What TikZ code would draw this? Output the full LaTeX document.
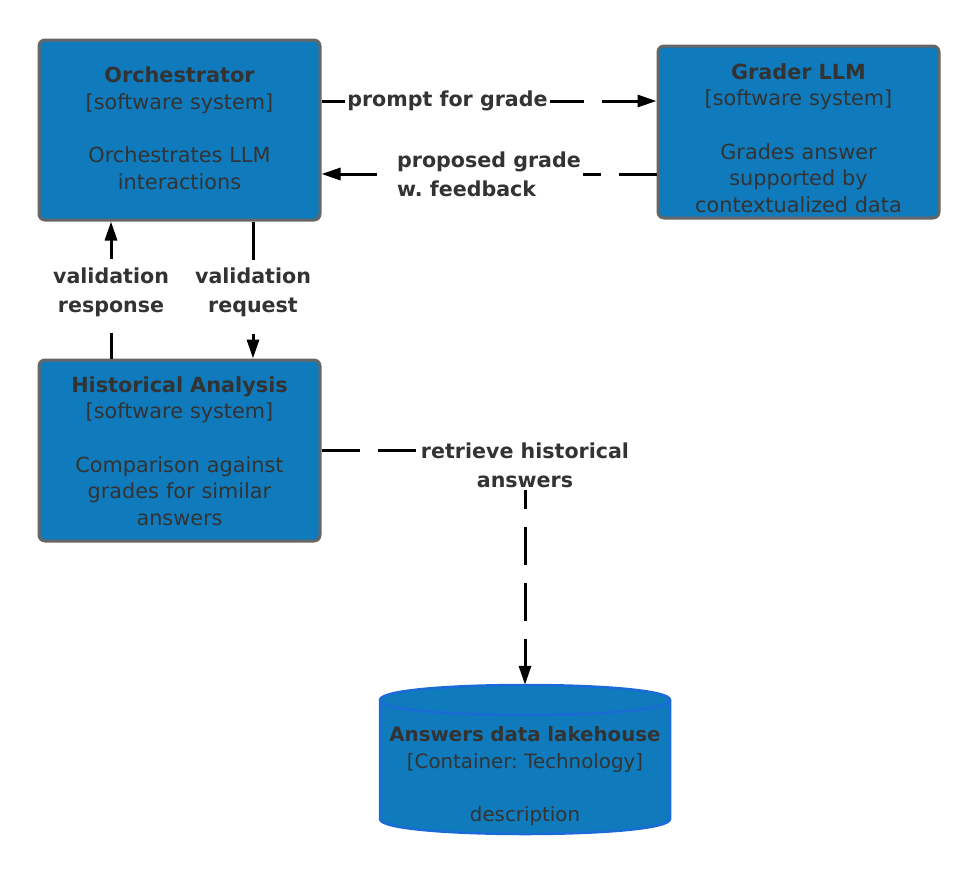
\documentclass[tikz,border=0pt]{standalone}
\usepackage{fontspec}
\setmainfont{DejaVu Sans}
\usetikzlibrary{arrows.meta}
\definecolor{boxfill}{HTML}{0F7BBD}
\definecolor{boxline}{HTML}{666666}
\definecolor{txt}{HTML}{333333}
\definecolor{cylline}{HTML}{1A6BD6}
\frenchspacing
\begin{document}
\begin{tikzpicture}[x=1pt,y=-1pt,
  sys/.style={draw=boxline, line width=3pt, fill=boxfill, rounded corners=6pt,
    minimum width=281pt, inner sep=0pt},
  systxt/.style={text width=278pt, align=center, text=txt,
    font=\fontsize{20.8}{26.7}\selectfont, inner sep=0pt},
  rel/.style={line width=3pt, dash pattern=on 38pt off 18pt,
    -{Triangle[length=19pt,width=12pt]}},
  lbl/.style={fill=white, text=txt, font=\bfseries\fontsize{20.6}{29}\selectfont,
    inner sep=2pt, align=center}
]
\useasboundingbox (0,0) rectangle (980,873);

\node[sys, minimum height=180pt] (orch) at (179.5,130) {};
\node[systxt] (orchtxt) at (179.5,128.5)
  {\textbf{Orchestrator}\\{}[software system]\\\mbox{}\\Orchestrates LLM\\interactions};
\node[sys, minimum height=172pt] (grader) at (798.5,132) {};
\node[systxt] (gradertxt) at (798.5,138)
  {\textbf{Grader LLM}\\{}[software system]\\\mbox{}\\Grades answer\\supported by\\contextualized data};
\node[sys, minimum height=181pt] (hist) at (179.5,450.5) {};
\node[systxt] (histtxt) at (179.5,451)
  {\textbf{Historical Analysis}\\{}[software system]\\\mbox{}\\Comparison against\\grades for similar\\answers};

% cylinder
\node[minimum width=290pt, minimum height=149pt, inner sep=0pt] (lake) at (525,759.5) {};
\path[fill=boxfill, draw=cylline, line width=2.5pt]
  (380,700) -- (380,819) .. controls (380,839) and (670,839) .. (670,819)
  -- (670,700) .. controls (670,680) and (380,680) .. (380,700) -- cycle;
\draw[cylline, line width=2.5pt] (380,700) .. controls (380,720) and (670,720) .. (670,700);
\node[systxt, text width=290pt, font=\fontsize{19.8}{26.7}\selectfont] (laketxt) at (525,776)
  {\textbf{Answers data lakehouse}\\{}[Container: Technology]\\\mbox{}\\description};

% connectors
\draw[rel] (orch.east |- 0,101) -- node[lbl,pos=0.376]{prompt for grade} (grader.west |- 0,101);
\draw[rel] (grader.west |- 0,174) -- node[lbl,pos=0.5,align=left]{proposed grade\\w. feedback} (orch.east |- 0,174);
\draw[rel, dash phase=12pt] (hist.north -| 111,0) -- node[lbl,yshift=-2pt]{validation\\response} (orch.south -| 111,0);
\draw[rel] (orch.south -| 253,0) -- node[lbl,yshift=-2pt]{validation\\request} (hist.north -| 253,0);
\draw[rel] (hist.east) -| node[lbl,pos=0.5,yshift=-15pt]{retrieve historical\\answers} (lake.north);
\end{tikzpicture}
\end{document}
